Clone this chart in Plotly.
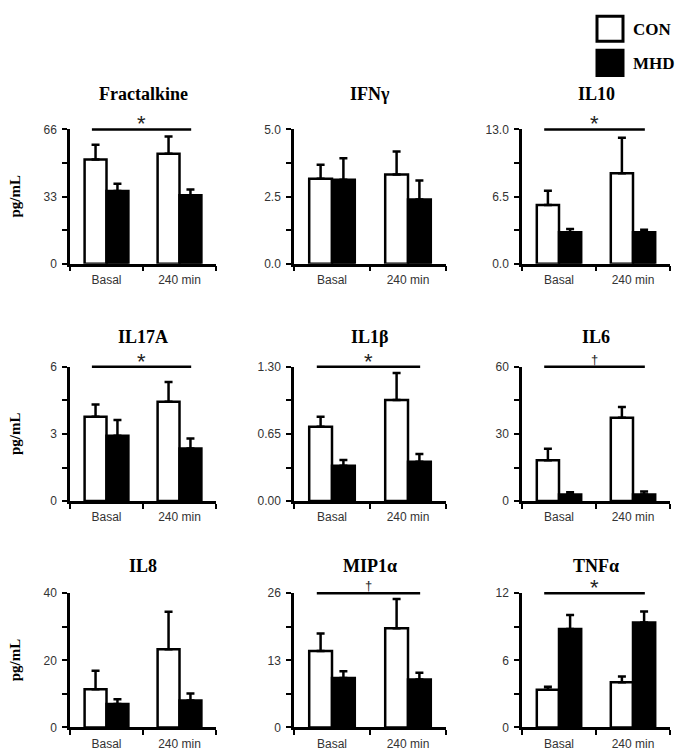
import plotly.graph_objects as go

# ---------------- data ----------------
cytokines = ["Fractalkine", "IFNγ", "IL10", "IL17A", "IL1β", "IL6", "IL8", "MIP1α", "TNFα"]
timepoints = ["Basal", "240 min"]
group_names = ["CON", "MHD"]

con_mean = [[51.2, 54.1], [3.16, 3.32], [5.68, 8.75], [3.77, 4.44], [0.719, 0.98],
            [18.2, 37.2], [11.4, 23.3], [14.8, 19.2], [3.36, 4.05]]
con_sem = [[7.3, 8.5], [0.53, 0.86], [1.38, 3.45], [0.55, 0.88], [0.098, 0.26],
           [5.2, 4.9], [5.5, 11.2], [3.4, 5.7], [0.27, 0.50]]
mhd_mean = [[35.7, 33.6], [3.13, 2.39], [3.04, 3.04], [2.92, 2.35], [0.343, 0.382],
            [3.0, 3.0], [7.0, 8.0], [9.6, 9.3], [8.81, 9.38]]
mhd_sem = [[3.6, 2.9], [0.80, 0.71], [0.32, 0.26], [0.70, 0.45], [0.055, 0.075],
           [1.0, 1.3], [1.4, 2.1], [1.3, 1.3], [1.25, 0.98]]

y_max = [66, 5.0, 13.0, 6, 1.30, 60, 40, 26, 12]
y_tick_labels = [["0", "33", "66"], ["0.0", "2.5", "5.0"], ["0.0", "6.5", "13.0"],
                 ["0", "3", "6"], ["0.00", "0.65", "1.30"], ["0", "30", "60"],
                 ["0", "20", "40"], ["0", "13", "26"], ["0", "6", "12"]]
significance = ["*", "", "*", "*", "*", "†", "", "†", "*"]
y_unit = "pg/mL"

# ---------------- layout geometry (target picture pixels) ----------------
OFF_X = 8                 # page offset of the figure, horizontal
OFF_Y, SCALE_Y = 14.7, 0.98   # page offset / vertical scale seen in the picture
W, H = 684 - OFF_X, 760
col_left = [70, 294, 522]
col_width = [146, 152, 148]
row_top = [129, 366, 592]
row_height = 134
title_center = [94, 336, 565]


def px_x(p):
    return (p - OFF_X) / W


def px_y(p):
    return 1 - ((p - OFF_Y) / SCALE_Y) / H


SERIF = "Liberation Serif, Times New Roman, serif"
SANS = "Liberation Sans, Arial, sans-serif"

fig = go.Figure()
layout_axes = {}
shapes = []
annotations = []

for i, name in enumerate(cytokines):
    r, c = divmod(i, 3)
    n = "" if i == 0 else str(i + 1)
    xa, ya = "x" + n, "y" + n
    x0 = px_x(col_left[c])
    x1 = px_x(col_left[c] + col_width[c])
    y1 = px_y(row_top[r])
    y0 = px_y(row_top[r] + row_height)

    err_style = dict(type="data", symmetric=False, color="black",
                     thickness=2.5, width=4)
    fig.add_trace(go.Bar(
        x=timepoints, y=con_mean[i], name=group_names[0],
        marker=dict(color="white", line=dict(color="black", width=2.5)),
        error_y=dict(array=con_sem[i], arrayminus=[0, 0], **err_style),
        xaxis=xa, yaxis=ya, showlegend=False, offsetgroup="CON"))
    fig.add_trace(go.Bar(
        x=timepoints, y=mhd_mean[i], name=group_names[1],
        marker=dict(color="black", line=dict(color="black", width=2.5)),
        error_y=dict(array=mhd_sem[i], arrayminus=[0, 0], **err_style),
        xaxis=xa, yaxis=ya, showlegend=False, offsetgroup="MHD"))

    ym = y_max[i]
    tv = [0, ym / 4, ym / 2, 3 * ym / 4, ym]
    labs = y_tick_labels[i]
    tt = [labs[0], "", labs[1], "", labs[2]]

    layout_axes["xaxis" + n] = dict(
        domain=[x0, x1], anchor=ya, type="category",
        showline=True, linecolor="black", linewidth=2.5,
        ticks="outside", tickson="boundaries", ticklen=5, tickwidth=2,
        tickcolor="black", showgrid=False, zeroline=False, ticklabelstandoff=3,
        tickfont=dict(family=SANS, size=12, color="#333"))
    layout_axes["yaxis" + n] = dict(
        domain=[y0, y1], anchor=xa, range=[0, ym],
        showline=True, linecolor="black", linewidth=2.5,
        ticks="outside", ticklen=5, tickwidth=2, tickcolor="black",
        tickvals=tv, ticktext=tt, showgrid=False, zeroline=False,
        ticklabelstandoff=3,
        tickfont=dict(family=SANS, size=12, color="#333"))

    # title
    annotations.append(dict(
        text="<b>" + name + "</b>", xref=xa + " domain", yref="paper",
        x=0.5, y=px_y(title_center[r]), yanchor="middle", xanchor="center",
        showarrow=False, font=dict(family=SERIF, size=18, color="black")))

    # significance
    if significance[i]:
        shapes.append(dict(type="line", xref=xa + " domain", yref=ya + " domain",
                           x0=0.15, x1=0.83, y0=1, y1=1,
                           line=dict(color="black", width=2.5)))
        is_star = significance[i] == "*"
        annotations.append(dict(
            text=significance[i], xref=xa + " domain", yref=ya + " domain",
            x=0.49, y=1, xanchor="center", yanchor="bottom",
            yshift=-9 if is_star else -2, showarrow=False,
            font=dict(family=SANS, size=22 if is_star else 13, color="#222")))

    # y unit label
    if c == 0:
        annotations.append(dict(
            text="<b>" + y_unit + "</b>", xref=xa + " domain", yref=ya + " domain",
            x=0, y=0.5, xshift=-55, textangle=-90, showarrow=False,
            xanchor="center", yanchor="middle",
            font=dict(family=SERIF, size=15, color="black")))

# manual legend
legend_fill = ["white", "black"]
for k, g in enumerate(group_names):
    top = 16 + 34 * k
    shapes.append(dict(type="rect", xref="paper", yref="paper",
                       x0=px_x(597), x1=px_x(623), y0=px_y(top + 25), y1=px_y(top),
                       fillcolor=legend_fill[k], line=dict(color="black", width=3)))
    annotations.append(dict(text="<b>" + g + "</b>", xref="paper", yref="paper",
                            x=px_x(631), y=px_y(top + 13), xanchor="left",
                            yanchor="middle", showarrow=False,
                            font=dict(family=SERIF, size=17, color="black")))

fig.update_layout(
    width=W, height=H, margin=dict(l=0, r=0, t=0, b=0),
    paper_bgcolor="white", plot_bgcolor="white",
    barmode="group", bargap=0.4, bargroupgap=0,
    shapes=shapes, annotations=annotations, showlegend=False,
    **layout_axes)

fig.write_html("out.html")
